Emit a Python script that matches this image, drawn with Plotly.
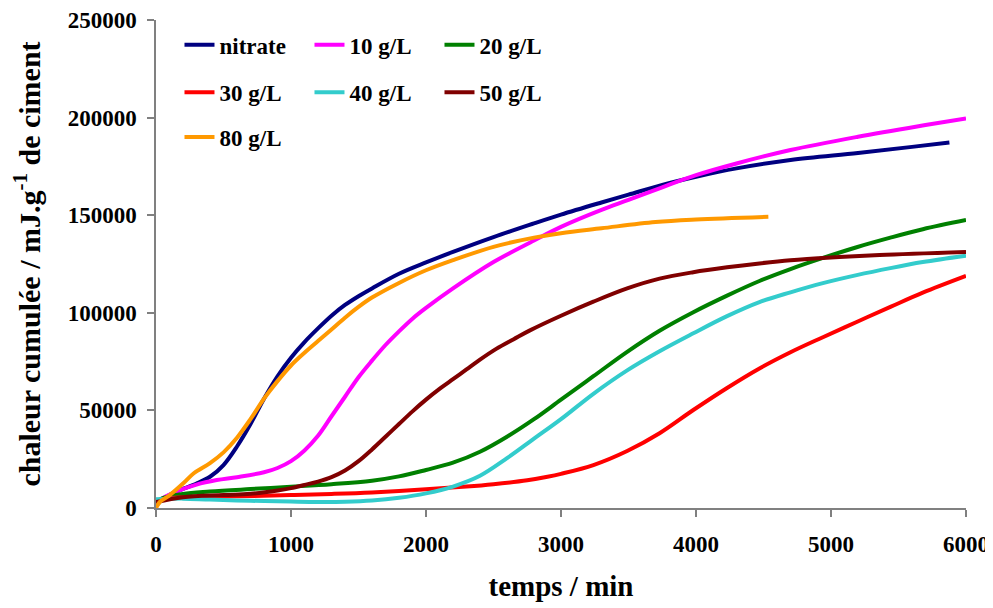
import plotly.graph_objects as go

x_nitrate = [0, 50, 150, 300, 400, 500, 600, 700, 800, 900, 1000, 1100, 1200, 1300, 1400, 1500, 1600, 1800, 2000, 2200, 2500, 2800, 3000, 3300, 3500, 3750, 4000, 4300, 4700, 5200, 5600, 5877]
y_nitrate = [1000, 4500, 8400, 12500, 16000, 22000, 31500, 43000, 56000, 67500, 77000, 85000, 92000, 98500, 104000, 108500, 112500, 120000, 125800, 131200, 138800, 145800, 150300, 156500, 160500, 165500, 169700, 174000, 178300, 181900, 185000, 187200]

x_10 = [0, 50, 150, 300, 450, 600, 800, 900, 1000, 1100, 1200, 1300, 1400, 1500, 1600, 1700, 1800, 1900, 2000, 2200, 2500, 2800, 3000, 3300, 3500, 3750, 4000, 4300, 4700, 5200, 5700, 6000]
y_10 = [2000, 5000, 8400, 12000, 14300, 15800, 18300, 20500, 24000, 29500, 37000, 47000, 57000, 67000, 75500, 83500, 90500, 97000, 102500, 112500, 126000, 137000, 144000, 152700, 157800, 164300, 170500, 176500, 183400, 190200, 196200, 199600]

x_20 = [0, 50, 200, 400, 700, 1000, 1300, 1600, 1800, 2000, 2200, 2400, 2600, 2800, 3000, 3240, 3490, 3730, 3980, 4230, 4470, 4700, 4940, 5190, 5440, 5680, 6000]
y_20 = [3000, 5000, 7200, 8400, 9700, 10900, 12200, 14000, 16200, 19500, 23200, 28800, 36500, 45500, 55500, 67500, 80000, 90800, 100300, 108800, 116300, 122400, 128100, 133600, 138500, 142800, 147500]

x_30 = [0, 100, 200, 400, 700, 1000, 1300, 1600, 2000, 2300, 2500, 2750, 2900, 3000, 3240, 3490, 3730, 3980, 4230, 4470, 4700, 4940, 5190, 5440, 5680, 6000]
y_30 = [3500, 5000, 5400, 5800, 6100, 6600, 7200, 8000, 9600, 11000, 12200, 14200, 16000, 17500, 22000, 29200, 38300, 50200, 61500, 71500, 79800, 87500, 95300, 103000, 110300, 118900]

x_40 = [0, 200, 400, 700, 1000, 1200, 1400, 1600, 1800, 2000, 2200, 2400, 2600, 2800, 3000, 3240, 3490, 3730, 3980, 4230, 4470, 4700, 4940, 5190, 5440, 5680, 6000]
y_40 = [4500, 4800, 4300, 3700, 3300, 3100, 3200, 3800, 5200, 7500, 11000, 16500, 25500, 35500, 45500, 58500, 70500, 80300, 89500, 98300, 105500, 110500, 115200, 119300, 122900, 126000, 129300]

x_50 = [0, 200, 500, 700, 900, 1000, 1100, 1200, 1300, 1400, 1500, 1600, 1700, 1800, 1900, 2000, 2100, 2200, 2300, 2400, 2520, 2650, 2770, 3000, 3240, 3490, 3730, 3980, 4230, 4470, 4700, 5000, 5360, 6000]
y_50 = [3000, 5500, 6600, 7300, 9000, 10200, 11800, 13500, 15800, 19200, 24000, 30000, 36500, 43000, 49500, 55500, 61000, 66000, 71000, 76000, 81500, 86500, 91000, 98500, 105700, 112500, 117500, 120800, 123300, 125300, 126900, 128300, 129600, 131200]

x_80 = [0, 30, 100, 200, 280, 400, 500, 600, 700, 800, 900, 1000, 1100, 1200, 1300, 1400, 1500, 1600, 1800, 2000, 2200, 2500, 2800, 3000, 3300, 3700, 4000, 4536]
y_80 = [0, 3200, 6500, 12500, 17800, 23000, 28500, 36000, 45500, 56000, 65000, 73000, 79500, 85500, 91500, 97500, 103000, 107800, 115300, 121800, 127000, 133800, 138500, 140800, 143300, 146500, 147800, 149200]

series = [
    ("nitrate", x_nitrate, y_nitrate, "#000080", "legend"),
    ("10 g/L", x_10, y_10, "#FF00FF", "legend"),
    ("20 g/L", x_20, y_20, "#008000", "legend"),
    ("30 g/L", x_30, y_30, "#FF0000", "legend2"),
    ("40 g/L", x_40, y_40, "#33CCCC", "legend2"),
    ("50 g/L", x_50, y_50, "#800000", "legend2"),
    ("80 g/L", x_80, y_80, "#FF9900", "legend3"),
]

x_ticks = [0, 1000, 2000, 3000, 4000, 5000, 6000]
y_ticks = [0, 50000, 100000, 150000, 200000, 250000]

FONT = "Liberation Serif"

fig = go.Figure()
for name, xs, ys, color, lg in series:
    fig.add_trace(go.Scatter(x=xs, y=ys, mode="lines", name=name,
                             line=dict(color=color, width=4, shape="spline", smoothing=1.0),
                             legend=lg))

leg_common = dict(orientation="h", entrywidth=85, entrywidthmode="pixels",
                  font=dict(family=FONT, size=23, color="black", weight="bold"),
                  bgcolor="rgba(0,0,0,0)", xanchor="left", yanchor="middle", x=0.029,
                  itemwidth=30, tracegroupgap=0)

axis_common = dict(showgrid=False, zeroline=False, showline=True, linecolor="#808080", linewidth=1.5,
                   ticks="outside", ticklen=7, tickcolor="#808080", tickwidth=1.5, automargin=False,
                   tickfont=dict(family=FONT, size=23, color="black", weight="bold"))

# page body has an 8px margin; figure placed so the plot area lands where the reference has it
fig.update_layout(
    width=985, height=600,
    margin=dict(l=148, r=27, t=12, b=100),
    paper_bgcolor="white", plot_bgcolor="white",
    font=dict(family=FONT, color="black"),
    showlegend=True,
    legend=dict(y=0.949, **leg_common),
    legend2=dict(y=0.852, **leg_common),
    legend3=dict(y=0.760, **leg_common),
    xaxis=dict(range=[0, 6000], tickvals=x_ticks, ticktext=[str(v) for v in x_ticks],
               ticklabelstandoff=8,
               title=dict(text="temps / min", font=dict(family=FONT, size=29, color="black", weight="bold"), standoff=19),
               **axis_common),
    yaxis=dict(range=[0, 250000], tickvals=y_ticks, ticktext=[str(v) for v in y_ticks],
               ticklabelstandoff=6,
               title=dict(text="chaleur cumulée / mJ.g<sup>-1</sup> de ciment",
                          font=dict(family=FONT, size=30, color="black", weight="bold"), standoff=22),
               **axis_common),
)

fig.write_html("out.html")
